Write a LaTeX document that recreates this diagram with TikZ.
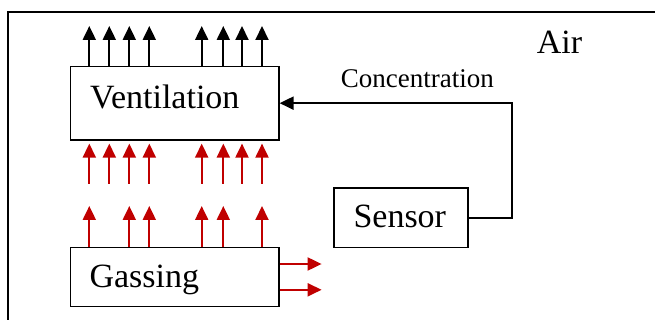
\documentclass[tikz,border=0pt]{standalone}
\usepackage{fontspec}
\setmainfont{Liberation Serif}
\usetikzlibrary{arrows.meta}
\definecolor{arrred}{RGB}{192,0,0}
\begin{document}
\begin{tikzpicture}[x=1pt,y=-1pt,
  box/.style={draw, line width=1.6pt, inner sep=0pt, anchor=north west},
  bigtxt/.style={anchor=base west, inner sep=0pt, font=\fontsize{34}{40}\selectfont},
  smalltxt/.style={anchor=base west, inner sep=0pt, font=\fontsize{27}{32}\selectfont},
  blkarrow/.style={line width=2pt, -{Triangle[width=13pt,length=14pt]}},
  redarrow/.style={draw=arrred, line width=2pt, -{Triangle[width=13pt,length=14pt]}, arrred}
]
\useasboundingbox (0,0) rectangle (655,320);
\coordinate (framebl) at (8,320);
\coordinate (frametr) at (655,12);
\draw[line width=1.6pt] (framebl) |- (frametr);

\node[box, minimum width=208.5pt, minimum height=73.3pt] (vent) at (69.5,65.7) {};
\node[box, minimum width=208.5pt, minimum height=59pt] (gas) at (69.5,246.7) {};
\node[box, minimum width=134pt, minimum height=59.4pt] (sens) at (333.3,187.3) {};

\node[bigtxt] (venttxt) at (90,109) {Ventilation};
\node[bigtxt] (gastxt) at (89.3,287.7) {Gassing};
\node[bigtxt] (senstxt) at (353.3,228) {Sensor};
\node[bigtxt] (airtxt) at (536.7,53.3) {Air};
\node[smalltxt] (conctxt) at (340.7,87.7) {Concentration};

% feedback
\coordinate (fbcorner) at (511.7,0);
\draw[line width=2pt, -{Triangle[width=13pt,length=14pt]}] (sens.east) -| (fbcorner |- vent.east) -- (vent.east);

% black outflow arrows
\foreach \dx in {19.8,39.8,59.8,79.8,132.2,153.8,172.5,192.5}
  \draw[blkarrow] ([xshift=\dx pt]vent.north west) -- ++(0,-39.7);

% red upper row
\foreach \dx in {19.8,39.8,59.8,79.8,132.2,153.8,172.5,192.5}
  \draw[redarrow] ([xshift=\dx pt, yshift=-43pt]vent.south west) -- ([xshift=\dx pt, yshift=-3pt]vent.south west);

% red lower row
\foreach \dx in {19.8,59.8,79.8,132.2,153.8,192.5}
  \draw[redarrow] ([xshift=\dx pt]gas.north west) -- ++(0,-40.7);

% red side arrows
\draw[redarrow] ([yshift=13pt]gas.east) -- ++(42,0);
\draw[redarrow] ([yshift=-12.8pt]gas.east) -- ++(42,0);
\end{tikzpicture}
\end{document}
